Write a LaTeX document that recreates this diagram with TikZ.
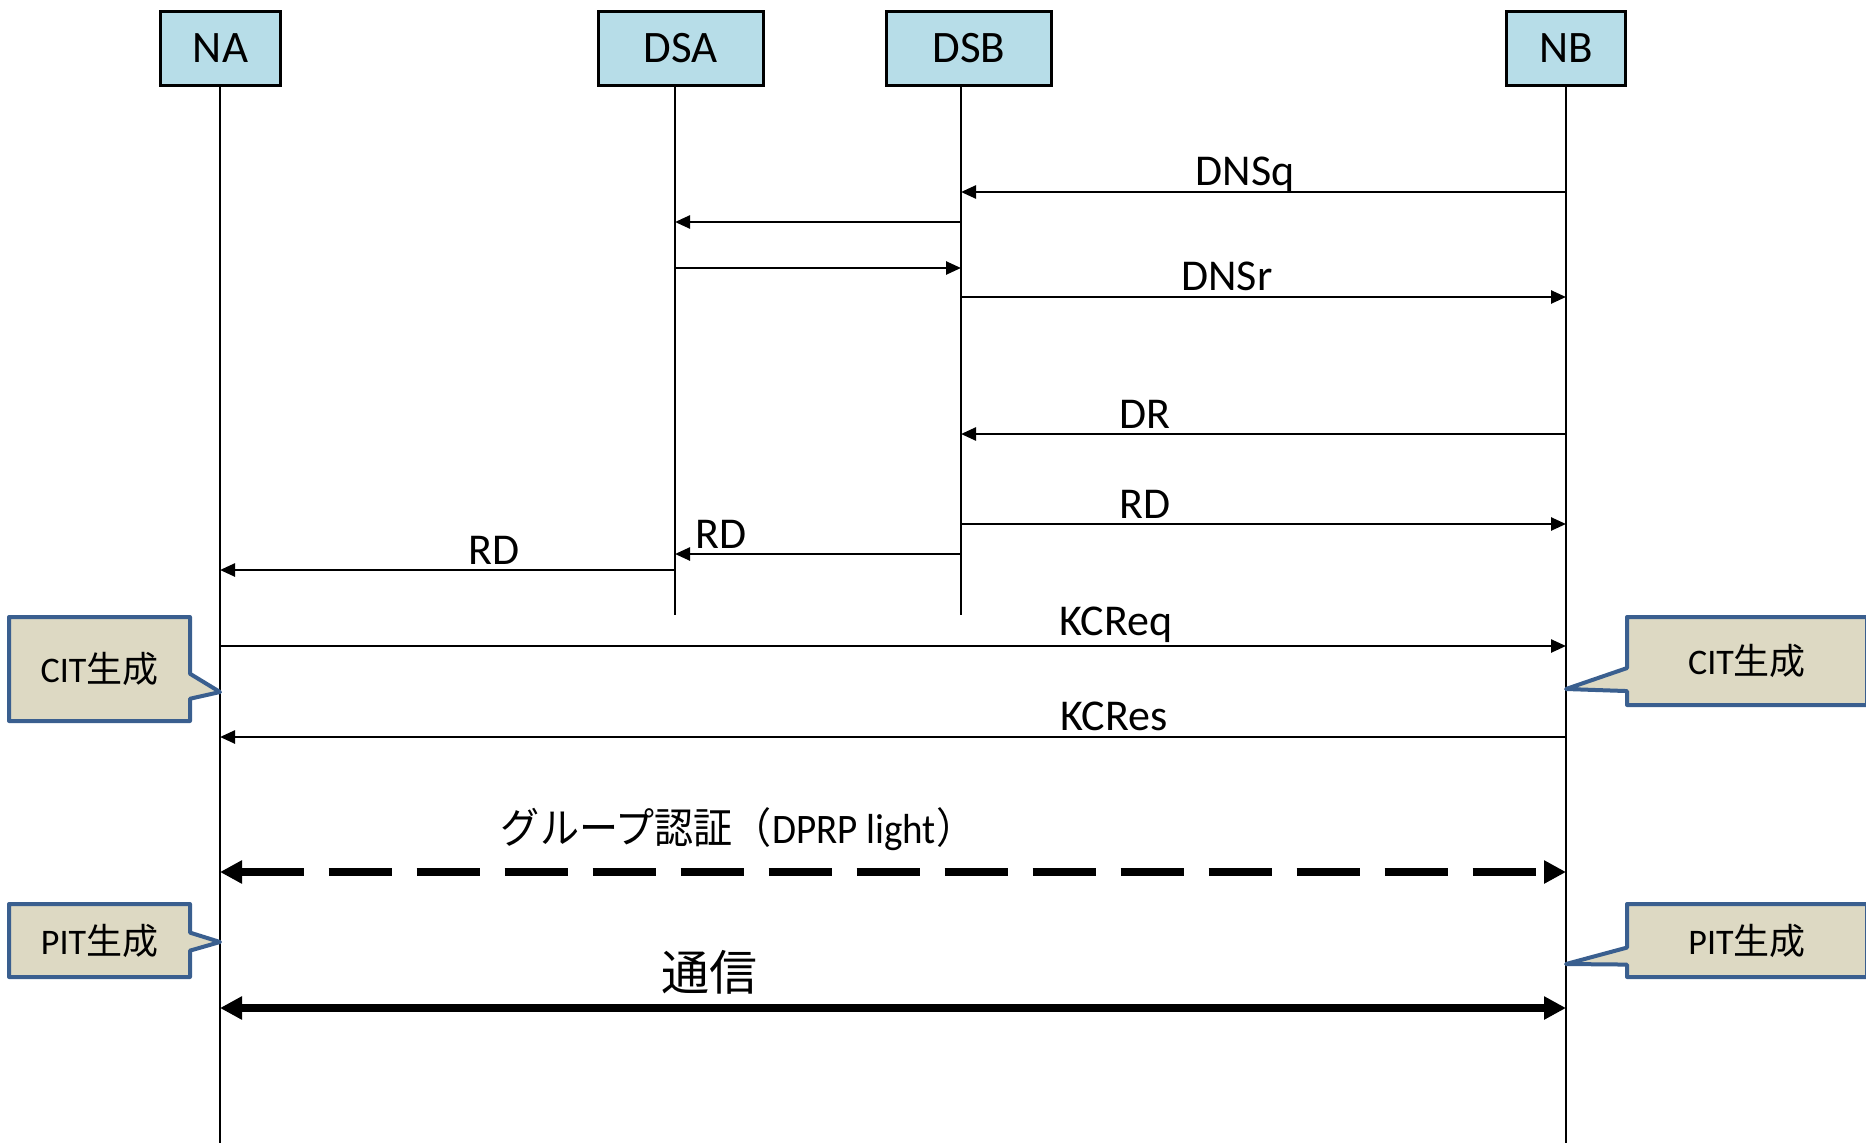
\documentclass[tikz,border=0pt]{standalone}
\usepackage{fontspec}
\setmainfont{Carlito}
\newfontfamily\jp{Noto Sans CJK JP}
\usepackage{xcolor}
\usetikzlibrary{arrows.meta,calc,shapes.callouts}
\definecolor{hdrblue}{HTML}{B7DDE8}
\definecolor{notetan}{HTML}{DDD9C3}
\definecolor{noteedge}{HTML}{3A5F8F}

\begin{document}
\begin{tikzpicture}[x=1pt,y=-1pt,
  hdr/.style={draw,line width=3pt,fill=hdrblue,minimum height=74pt,inner sep=0pt,font=\fontsize{45}{54}\selectfont},
  life/.style={line width=2.8pt},
  msg/.style={line width=2.5pt,-{Triangle[length=15pt,width=13pt]}},
  lbl/.style={anchor=base,inner sep=0pt,font=\fontsize{44}{53}\selectfont},
  bigmsg/.style={line width=8pt,{Triangle[length=22pt,width=22pt]}-{Triangle[length=22pt,width=22pt]}},
  note/.style={rectangle callout,draw=noteedge,fill=notetan,line width=4pt,line join=round,inner sep=0pt,font=\fontsize{36}{43}\selectfont}]
\useasboundingbox (0,0) rectangle (1866,1143);
\clip (0,0) rectangle (1866,1143);

% participants and lifelines
\node[hdr,minimum width=120pt] (na)  at (220.5,48.5) {NA};
\node[hdr,minimum width=165pt] (dsa) at (681,48.5)   {DSA};
\node[hdr,minimum width=165pt] (dsb) at (969,48.5)   {DSB};
\node[hdr,minimum width=119pt] (nb)  at (1566,48.5)  {NB};
\coordinate (la)  at (220,87);
\coordinate (lsa) at (675,87);
\coordinate (lsb) at (961,87);
\coordinate (lb)  at (1566,87);
\foreach \top/\yy in {la/1150, lsa/615, lsb/615, lb/1150}
  \draw[life] (\top) -- (\top|-0,\yy);

% notes on NA / NB
\node[note,minimum width=181pt,minimum height=104pt,callout absolute pointer={(la|-0,692)},callout pointer width=25pt] (citA) at (99.5,669) {CIT{\jp 生成}};
\node[note,minimum width=240pt,minimum height=88pt,callout absolute pointer={(lb|-0,689)},callout pointer width=23pt] (citB) at (1747,661) {CIT{\jp 生成}};
\node[note,minimum width=181pt,minimum height=73pt,callout absolute pointer={(la|-0,942)},callout pointer width=18pt] (pitA) at (99.5,940.5) {PIT{\jp 生成}};
\node[note,minimum width=240pt,minimum height=73pt,callout absolute pointer={(lb|-0,964)},callout pointer width=17pt] (pitB) at (1747,940.5) {PIT{\jp 生成}};

% messages
\foreach \i/\src/\dst/\yy in {1/lb/lsb/192, 2/lsb/lsa/222, 3/lsa/lsb/268, 4/lsb/lb/297, 5/lb/lsb/434,
                              6/lsb/lb/524, 7/lsb/lsa/554, 8/lsa/la/570, 9/la/lb/646, 10/lb/la/737}{
  \coordinate (row\i) at (0,\yy);
  \draw[msg] (\src|-row\i) -- (\dst|-row\i);
}
\foreach \i/\xx/\yy/\txt in {1/1245/185/DNSq, 4/1227/290/DNSr, 5/1145/428/DR, 6/1145/518/RD,
                             7/721/548/RD, 8/494/564/RD, 9/1116/635/KCReq, 10/1114/730/KCRes}
  \node[lbl] (lbl\i) at (\xx,\yy) {\txt};

% group authentication and data exchange
\coordinate (row11) at (0,872);
\coordinate (row12) at (0,1008);
\draw[bigmsg,dash pattern=on 63pt off 25pt] (la|-row11) -- (lb|-row11);
\draw[bigmsg] (la|-row12) -- (lb|-row12);
\node[anchor=base,inner sep=0pt,font=\jp\fontsize{42}{50}\selectfont] (authlbl) at (738,843)
  {\scalebox{0.93}[1]{グループ認証（{\rmfamily DPRP light}）}};
\node[anchor=base,inner sep=0pt,font=\jp\fontsize{48}{56}\selectfont] (commlbl) at (709,990) {通信};
\end{tikzpicture}
\end{document}
